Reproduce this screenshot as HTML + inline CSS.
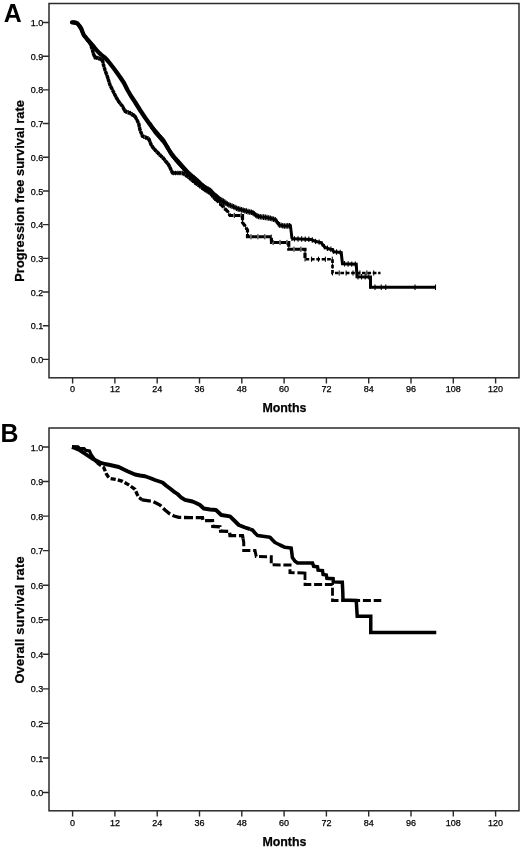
<!DOCTYPE html>
<html lang="en"><head><meta charset="utf-8"><title>Survival curves</title>
<style>
html,body{margin:0;padding:0;background:#fff}
body{width:520px;height:848px;overflow:hidden}
svg text{font-family:"Liberation Sans",Arial,Helvetica,sans-serif;fill:#111}
.tl{font-size:9px;fill:#000;stroke:#000;stroke-width:0.25px}
.al{font-size:12.4px;font-weight:bold;fill:#000;stroke:#000;stroke-width:0.25px}
.yl{font-size:12.8px;font-weight:bold;fill:#000;stroke:#000;stroke-width:0.25px}
.pl{font-size:24.9px;font-weight:bold;fill:#000}
</style></head><body>
<svg width="520" height="848" viewBox="0 0 520 848" style="display:block;filter:grayscale(1)">
<rect width="520" height="848" fill="#fff"/>
<rect x="49.0" y="3.5" width="470.0" height="374.3" fill="none" stroke="#2a2a2a" stroke-width="1.5"/>
<text x="43.2" y="362.95" text-anchor="end" class="tl">0.0</text>
<text x="43.2" y="329.26" text-anchor="end" class="tl">0.1</text>
<text x="43.2" y="295.57" text-anchor="end" class="tl">0.2</text>
<text x="43.2" y="261.88" text-anchor="end" class="tl">0.3</text>
<text x="43.2" y="228.19" text-anchor="end" class="tl">0.4</text>
<text x="43.2" y="194.50" text-anchor="end" class="tl">0.5</text>
<text x="43.2" y="160.81" text-anchor="end" class="tl">0.6</text>
<text x="43.2" y="127.12" text-anchor="end" class="tl">0.7</text>
<text x="43.2" y="93.43" text-anchor="end" class="tl">0.8</text>
<text x="43.2" y="59.74" text-anchor="end" class="tl">0.9</text>
<text x="43.2" y="26.05" text-anchor="end" class="tl">1.0</text>
<text x="72.60" y="392.20" text-anchor="middle" class="tl">0</text>
<text x="114.90" y="392.20" text-anchor="middle" class="tl">12</text>
<text x="157.20" y="392.20" text-anchor="middle" class="tl">24</text>
<text x="199.50" y="392.20" text-anchor="middle" class="tl">36</text>
<text x="241.80" y="392.20" text-anchor="middle" class="tl">48</text>
<text x="284.10" y="392.20" text-anchor="middle" class="tl">60</text>
<text x="326.40" y="392.20" text-anchor="middle" class="tl">72</text>
<text x="368.70" y="392.20" text-anchor="middle" class="tl">84</text>
<text x="411.00" y="392.20" text-anchor="middle" class="tl">96</text>
<text x="453.30" y="392.20" text-anchor="middle" class="tl">108</text>
<text x="495.60" y="392.20" text-anchor="middle" class="tl">120</text>
<path d="M42.8,359.40H49.0M42.8,325.71H49.0M42.8,292.02H49.0M42.8,258.33H49.0M42.8,224.64H49.0M42.8,190.95H49.0M42.8,157.26H49.0M42.8,123.57H49.0M42.8,89.88H49.0M42.8,56.19H49.0M42.8,22.50H49.0M72.60,377.8V383.40000000000003M114.90,377.8V383.40000000000003M157.20,377.8V383.40000000000003M199.50,377.8V383.40000000000003M241.80,377.8V383.40000000000003M284.10,377.8V383.40000000000003M326.40,377.8V383.40000000000003M368.70,377.8V383.40000000000003M411.00,377.8V383.40000000000003M453.30,377.8V383.40000000000003M495.60,377.8V383.40000000000003" stroke="#2a2a2a" stroke-width="1.4" fill="none"/>
<text x="284.4" y="412.3" text-anchor="middle" class="al">Months</text>
<text transform="translate(23.8,281.70) rotate(-90)" textLength="181.6" lengthAdjust="spacing" class="yl">Progression free survival rate</text>
<text x="3.7" y="21.8" class="pl">A</text>
<rect x="49.0" y="428.0" width="470.0" height="382.79999999999995" fill="none" stroke="#2a2a2a" stroke-width="1.5"/>
<text x="43.2" y="796.05" text-anchor="end" class="tl">0.0</text>
<text x="43.2" y="761.50" text-anchor="end" class="tl">0.1</text>
<text x="43.2" y="726.95" text-anchor="end" class="tl">0.2</text>
<text x="43.2" y="692.40" text-anchor="end" class="tl">0.3</text>
<text x="43.2" y="657.85" text-anchor="end" class="tl">0.4</text>
<text x="43.2" y="623.30" text-anchor="end" class="tl">0.5</text>
<text x="43.2" y="588.75" text-anchor="end" class="tl">0.6</text>
<text x="43.2" y="554.20" text-anchor="end" class="tl">0.7</text>
<text x="43.2" y="519.65" text-anchor="end" class="tl">0.8</text>
<text x="43.2" y="485.10" text-anchor="end" class="tl">0.9</text>
<text x="43.2" y="450.55" text-anchor="end" class="tl">1.0</text>
<text x="72.60" y="825.90" text-anchor="middle" class="tl">0</text>
<text x="114.90" y="825.90" text-anchor="middle" class="tl">12</text>
<text x="157.20" y="825.90" text-anchor="middle" class="tl">24</text>
<text x="199.50" y="825.90" text-anchor="middle" class="tl">36</text>
<text x="241.80" y="825.90" text-anchor="middle" class="tl">48</text>
<text x="284.10" y="825.90" text-anchor="middle" class="tl">60</text>
<text x="326.40" y="825.90" text-anchor="middle" class="tl">72</text>
<text x="368.70" y="825.90" text-anchor="middle" class="tl">84</text>
<text x="411.00" y="825.90" text-anchor="middle" class="tl">96</text>
<text x="453.30" y="825.90" text-anchor="middle" class="tl">108</text>
<text x="495.60" y="825.90" text-anchor="middle" class="tl">120</text>
<path d="M42.8,792.50H49.0M42.8,757.95H49.0M42.8,723.40H49.0M42.8,688.85H49.0M42.8,654.30H49.0M42.8,619.75H49.0M42.8,585.20H49.0M42.8,550.65H49.0M42.8,516.10H49.0M42.8,481.55H49.0M42.8,447.00H49.0M72.60,810.8V816.4M114.90,810.8V816.4M157.20,810.8V816.4M199.50,810.8V816.4M241.80,810.8V816.4M284.10,810.8V816.4M326.40,810.8V816.4M368.70,810.8V816.4M411.00,810.8V816.4M453.30,810.8V816.4M495.60,810.8V816.4" stroke="#2a2a2a" stroke-width="1.4" fill="none"/>
<text x="284.4" y="846.1" text-anchor="middle" class="al">Months</text>
<text transform="translate(23.8,683.60) rotate(-90)" textLength="127.2" lengthAdjust="spacing" class="yl">Overall survival rate</text>
<text x="0.4" y="442.2" class="pl">B</text>
<path d="M72.00,22.30 L75.00,22.60 L77.50,23.50 L79.50,26.00 L81.25,28.75 L82.50,32.00 L83.75,35.00 L87.00,39.00 L90.00,43.00 L92.50,50.00 L93.50,54.00 L95.00,57.50 L98.00,58.00 L102.50,60.00 L103.50,65.00 L105.00,70.00 L107.50,77.00 L110.00,85.00 L113.00,91.00 L116.25,97.50 L119.00,102.00 L122.50,106.25 L125.00,111.25 L130.00,113.00 L135.00,116.25 L137.00,120.00 L138.75,123.75 L140.00,130.00 L142.50,136.25 L148.75,138.75 L151.25,145.00 L154.00,149.00 L157.50,152.50 L163.75,158.75 L168.75,165.00 L172.50,173.00 L180.50,173.00 L183.00,173.20 L187.50,176.25 L195.00,182.50 L205.00,190.00 L210.00,193.00 L215.00,198.75 L215.00,198.75" fill="none" stroke="#000" stroke-width="3.5" stroke-dasharray="3.6 0.4" stroke-linejoin="round" stroke-linecap="butt"/>
<path d="M215.00,198.75 L219.00,202.50 L222.50,206.25 L227.50,211.25 L230.00,215.50 L242.50,215.50 L242.50,222.50 L245.00,226.00 L247.50,230.00 L247.50,236.75 L271.25,236.75 L271.50,242.50 L288.75,242.50 L288.75,249.25 L305.00,249.25 L305.00,259.25 L305.50,259.25" fill="none" stroke="#000" stroke-width="3.2" stroke-dasharray="5.4 1.5" stroke-linejoin="miter" stroke-linecap="butt"/>
<path d="M305.50,259.25 L332.50,259.25 L332.50,273.00 L380.50,273.00" fill="none" stroke="#000" stroke-width="2.7" stroke-dasharray="3.7 1.7" stroke-linejoin="miter" stroke-linecap="butt"/>
<path d="M74.19,20.22v4.60M76.30,20.77v4.60M78.08,21.92v4.60M79.45,23.64v4.60M80.64,25.49v4.60M81.63,27.45v4.60M82.42,29.50v4.60M83.26,31.53v4.60M84.34,33.43v4.60M85.73,35.13v4.60M87.11,36.84v4.60M88.43,38.60v4.60M89.75,40.36v4.60M90.60,42.38v4.60M91.34,44.45v4.60M92.08,46.52v4.60M92.73,48.62v4.60M93.26,50.75v4.60M93.98,52.83v4.60M94.85,54.85v4.60M96.79,55.50v4.60M98.89,56.10v4.60M100.90,56.99v4.60M102.59,58.14v4.60M103.02,60.30v4.60M103.45,62.46v4.60M104.06,64.57v4.60M104.69,66.68v4.60M105.38,68.77v4.60M106.12,70.84v4.60M106.86,72.91v4.60M107.59,74.99v4.60M108.25,77.09v4.60M108.90,79.18v4.60M109.56,81.28v4.60M110.32,83.34v4.60M111.30,85.31v4.60M112.29,87.28v4.60M113.27,89.24v4.60M114.26,91.21v4.60M115.24,93.18v4.60M116.22,95.15v4.60M117.37,97.03v4.60M118.51,98.90v4.60M119.81,100.68v4.60M121.20,102.38v4.60M122.57,104.10v4.60M123.56,106.06v4.60M124.54,108.03v4.60M126.11,109.34v4.60M128.18,110.06v4.60M130.23,110.85v4.60M132.07,112.05v4.60M133.92,113.25v4.60M135.43,114.75v4.60M136.46,116.70v4.60M137.45,118.66v4.60M138.38,120.66v4.60M139.01,122.75v4.60M139.44,124.90v4.60M139.87,127.06v4.60M140.58,129.14v4.60M141.39,131.18v4.60M142.21,133.22v4.60M143.82,134.48v4.60M145.86,135.29v4.60M147.90,136.11v4.60M149.23,137.64v4.60M150.04,139.69v4.60M150.86,141.73v4.60M151.90,143.65v4.60M153.15,145.46v4.60M154.50,147.20v4.60M156.05,148.75v4.60M157.61,150.31v4.60M159.16,151.86v4.60M160.72,153.42v4.60M162.27,154.97v4.60M163.82,156.54v4.60M165.19,158.26v4.60M166.57,159.97v4.60M167.94,161.69v4.60M169.14,163.52v4.60M170.07,165.51v4.60M171.00,167.51v4.60M171.94,169.50v4.60M173.37,170.70v4.60M175.57,170.70v4.60M177.77,170.70v4.60M179.97,170.70v4.60M182.17,170.83v4.60M184.13,171.67v4.60M185.95,172.90v4.60M187.75,174.16v4.60M189.44,175.57v4.60M191.13,176.98v4.60M192.82,178.39v4.60M194.51,179.79v4.60M196.25,181.14v4.60M198.01,182.46v4.60M199.77,183.78v4.60M201.53,185.10v4.60M203.29,186.42v4.60M205.06,187.73v4.60M206.94,188.87v4.60M208.83,190.00v4.60M210.55,191.33v4.60M211.99,192.99v4.60M213.44,194.65v4.60M214.88,196.31v4.60" stroke="#000" stroke-width="1.1" fill="none"/>
<path d="M219.50,200.44v5.20M224.27,205.42v5.20M228.68,210.66v5.20M234.30,212.90v5.20M241.20,212.90v5.20M242.50,218.50v5.20M245.64,224.42v5.20M247.50,230.78v5.20M251.03,234.15v5.20M257.93,234.15v5.20M264.83,234.15v5.20M271.27,234.63v5.20M273.13,239.90v5.20M280.03,239.90v5.20M286.93,239.90v5.20M288.75,244.98v5.20M293.98,246.65v5.20M300.88,246.65v5.20M305.00,249.43v5.20M305.00,256.33v5.20M311.58,256.65v5.20M318.48,256.65v5.20M325.38,256.65v5.20M332.28,256.65v5.20M332.50,263.33v5.20M332.50,270.23v5.20M339.23,270.40v5.20M346.13,270.40v5.20M353.03,270.40v5.20M359.93,270.40v5.20M366.83,270.40v5.20M373.73,270.40v5.20" stroke="#000" stroke-width="1.0" fill="none"/>
<path d="M72.00,22.30 L75.00,22.60 L77.50,23.50 L79.50,26.00 L81.25,28.75 L82.50,32.00 L83.75,35.00 L87.00,39.00 L90.00,42.50 L94.00,47.00 L97.50,51.25 L101.00,54.60 L105.00,57.60 L108.00,61.00 L110.00,63.50 L115.00,70.00 L120.00,77.00 L124.00,83.00 L127.50,90.00 L131.00,96.00 L135.00,102.00 L140.00,110.00 L145.00,117.50 L150.00,124.50 L155.00,131.25 L159.50,136.50 L163.75,141.25 L167.50,147.50 L171.25,153.75 L175.50,159.00 L180.00,164.00 L184.00,168.50 L187.50,172.50 L192.50,177.00 L197.50,181.25 L202.50,186.00 L207.50,189.50 L210.00,190.50 L214.00,195.00 L215.00,195.71" fill="none" stroke="#000" stroke-width="4.3" stroke-linejoin="round" stroke-linecap="round"/>
<path d="M215.00,195.71 L217.50,197.50 L221.00,200.50 L225.00,202.50 L229.00,205.00 L232.50,206.25 L237.00,208.50 L242.50,210.00 L247.50,211.50 L252.50,212.50 L255.00,214.50 L257.50,216.25 L262.00,217.00 L265.00,217.30 L270.00,218.20 L275.50,219.80 L277.50,222.50 L279.00,224.80 L284.00,226.00 L290.50,225.80 L291.20,232.00 L292.00,238.75 L292.00,238.75" fill="none" stroke="#000" stroke-width="2.9" stroke-linejoin="round" stroke-linecap="butt"/>
<path d="M292.00,238.75 L300.00,239.00 L311.00,239.40 L315.00,241.20 L321.00,242.60 L323.00,245.00 L325.00,247.50 L330.00,249.20 L332.50,249.40 L333.75,251.75 L341.25,252.50 L341.80,258.00 L342.50,263.75 L356.25,264.25 L357.00,276.70 L370.50,276.90 L370.50,287.30 L435.50,287.30" fill="none" stroke="#000" stroke-width="3.0" stroke-linejoin="miter" stroke-linecap="butt"/>
<path d="M150.72,122.28v6.40M151.62,123.48v6.40M152.51,124.69v6.40M153.40,125.89v6.40M154.30,127.10v6.40M155.21,128.29v6.40M156.18,129.43v6.40M157.16,130.57v6.40M158.13,131.71v6.40M159.11,132.85v6.40M160.10,133.97v6.40M161.10,135.09v6.40M162.10,136.21v6.40M163.10,137.33v6.40M164.02,138.50v6.40M164.79,139.79v6.40M165.56,141.07v6.40M166.34,142.36v6.40M167.11,143.65v6.40M167.88,144.93v6.40M168.65,146.22v6.40M169.42,147.51v6.40M170.20,148.79v6.40M170.97,150.08v6.40M171.85,151.29v6.40M172.79,152.45v6.40M173.74,153.62v6.40M174.68,154.79v6.40M175.63,155.95v6.40M176.63,157.06v6.40M177.64,158.18v6.40M178.64,159.29v6.40M179.64,160.41v6.40M180.64,161.52v6.40M181.64,162.65v6.40M182.64,163.77v6.40M183.63,164.89v6.40M184.62,166.01v6.40M185.61,167.14v6.40M186.60,168.27v6.40M187.60,169.39v6.40M188.71,170.39v6.40M189.83,171.40v6.40M190.94,172.40v6.40M192.06,173.40v6.40M193.19,174.39v6.40M194.33,175.36v6.40M195.48,176.33v6.40M196.62,177.30v6.40M197.75,178.29v6.40M198.84,179.32v6.40M199.92,180.35v6.40M201.01,181.39v6.40M202.10,182.42v6.40M203.28,183.34v6.40M204.50,184.20v6.40M205.73,185.06v6.40M206.96,185.92v6.40M208.28,186.61v6.40M209.68,187.17v6.40M210.76,188.16v6.40M211.76,189.28v6.40M212.76,190.40v6.40M213.75,191.52v6.40M214.92,192.46v6.40M216.14,193.33v6.40M217.36,194.20v6.40M218.51,195.17v6.40M219.65,196.14v6.40M220.79,197.12v6.40M222.09,197.85v6.40M223.43,198.52v6.40M224.77,199.19v6.40" stroke="#000" stroke-width="1.2" fill="none"/>
<path d="M225.97,200.31v5.60M227.41,201.21v5.60M228.86,202.11v5.60M230.44,202.71v5.60M232.04,203.29v5.60M233.59,203.99v5.60M235.11,204.75v5.60M236.63,205.51v5.60M238.24,206.04v5.60M239.88,206.48v5.60M241.52,206.93v5.60M243.15,207.40v5.60M244.78,207.88v5.60M246.41,208.37v5.60M248.05,208.81v5.60M249.72,209.14v5.60M251.38,209.48v5.60M252.94,210.05v5.60M254.27,211.11v5.60M255.62,212.14v5.60M257.02,213.11v5.60M258.59,213.63v5.60M260.27,213.91v5.60M261.95,214.19v5.60M263.64,214.36v5.60M265.33,214.56v5.60M267.00,214.86v5.60M268.67,215.16v5.60M270.34,215.50v5.60M271.97,215.97v5.60M273.60,216.45v5.60M275.24,216.92v5.60M276.35,218.14v5.60M277.36,219.51v5.60M278.30,220.93v5.60M279.41,222.10v5.60M281.06,222.49v5.60M282.71,222.89v5.60M284.38,223.19v5.60M286.08,223.14v5.60M287.77,223.08v5.60M289.47,223.03v5.60M290.58,223.67v5.60M290.77,225.36v5.60M290.96,227.05v5.60M291.15,228.74v5.60M291.35,230.43v5.60M291.55,232.11v5.60M291.75,233.80v5.60M291.95,235.49v5.60" stroke="#000" stroke-width="1.2" fill="none"/>
<path d="M294.44,236.13v5.40M298.03,236.24v5.40M301.63,236.36v5.40M305.23,236.49v5.40M308.83,236.62v5.40M312.30,237.28v5.40M315.62,238.65v5.40M319.13,239.46v5.40M322.07,241.19v5.40M324.35,243.98v5.40M327.42,245.62v5.40M330.87,246.57v5.40M333.42,248.43v5.40M336.64,249.34v5.40M340.22,249.70v5.40M341.51,252.35v5.40M341.88,255.93v5.40M342.31,259.51v5.40M344.54,261.12v5.40M348.14,261.26v5.40M351.74,261.39v5.40M355.34,261.52v5.40M356.41,264.23v5.40M356.63,267.82v5.40M356.84,271.42v5.40M358.01,274.01v5.40M361.61,274.07v5.40M365.21,274.12v5.40M368.81,274.17v5.40M370.50,276.11v5.40M370.50,279.71v5.40M370.50,283.31v5.40" stroke="#000" stroke-width="1.1" fill="none"/>
<path d="M375,284.6v5.4M381.25,284.6v5.4M385.75,284.6v5.4M415,284.6v5.4M435.5,284.6v5.4" stroke="#000" stroke-width="1.1" fill="none"/>
<path d="M72.00,446.60 L78.00,446.80 L79.50,448.30 L84.00,448.60 L85.50,450.20 L89.50,451.00 L91.00,454.50 L93.50,458.00 L96.00,461.50 L97.00,462.41" fill="none" stroke="#000" stroke-width="3.2" stroke-linejoin="miter" stroke-linecap="butt"/>
<path d="M97.00,462.41 L98.75,464.00 L103.75,467.50 L105.00,470.50 L106.25,473.75 L108.00,476.50 L110.00,478.50 L117.50,479.80 L122.50,481.30 L128.75,484.80 L135.00,489.30 L137.00,494.00 L138.75,497.50 L142.00,499.67" fill="none" stroke="#000" stroke-width="3.3" stroke-dasharray="5.2 2.1" stroke-linejoin="miter" stroke-linecap="butt"/>
<path d="M142.00,499.67 L142.50,500.00 L152.50,501.25 L156.00,503.00 L160.00,505.00 L165.00,510.00 L170.00,514.00 L174.00,516.00 L178.75,517.40 L190.00,517.60 L202.50,517.60 L203.00,520.60 L212.50,520.60 L212.80,526.50 L220.00,526.80 L220.60,531.20 L229.50,531.30 L230.00,535.60 L242.50,535.60 L243.00,538.36" fill="none" stroke="#000" stroke-width="3.3" stroke-dasharray="9 2.8" stroke-linejoin="miter" stroke-linecap="butt"/>
<path d="M243.00,538.36 L243.75,542.50 L243.75,550.50 L255.00,550.50 L256.25,556.50 L271.25,556.75 L271.25,564.80 L290.00,565.00 L290.00,572.60 L304.00,572.97" fill="none" stroke="#000" stroke-width="3.0" stroke-dasharray="8 2.8" stroke-linejoin="miter" stroke-linecap="butt"/>
<path d="M304.00,572.97 L305.00,573.00 L305.00,584.50 L332.50,584.50 L332.50,600.50 L381.25,600.50" fill="none" stroke="#000" stroke-width="2.8" stroke-dasharray="8 2.8" stroke-linejoin="miter" stroke-linecap="butt"/>
<path d="M72.00,447.00 L76.00,448.50 L80.00,450.30 L85.00,453.75 L92.50,458.75 L100.00,462.50 L105.00,464.00 L110.00,465.00 L118.75,467.00 L127.50,471.25 L135.00,474.50 L140.00,475.50 L145.00,476.25 L150.00,478.00 L155.00,480.00 L162.50,482.50 L166.00,485.50 L170.00,488.50 L173.50,491.30 L177.50,494.00 L181.00,497.30 L185.00,499.80 L192.50,501.50 L196.00,503.00 L200.00,505.00 L203.75,508.50 L210.00,509.50 L216.00,510.00 L221.25,515.00 L230.00,516.40 L235.00,521.25 L238.75,525.00 L245.00,527.50 L250.00,529.17" fill="none" stroke="#000" stroke-width="3.9" stroke-linejoin="round" stroke-linecap="butt"/>
<path d="M250.00,529.17 L252.50,530.00 L255.00,533.00 L257.50,535.50 L263.00,536.30 L270.00,537.20 L272.50,540.00 L275.00,542.50 L280.00,545.00 L285.00,547.30 L291.00,547.98" fill="none" stroke="#000" stroke-width="3.6" stroke-linejoin="round" stroke-linecap="butt"/>
<path d="M291.00,547.98 L291.20,548.00 L292.40,557.50 L295.00,561.20 L297.50,563.00 L312.50,563.10 L313.70,566.30 L317.50,566.80 L318.10,570.20 L322.50,570.60 L323.10,574.50 L326.30,575.00 L326.90,578.30 L333.10,578.70 L333.30,581.90 L342.30,582.30 L342.80,592.00 L343.00,600.00 L356.25,600.50 L357.20,616.25 L370.75,616.25 L370.75,632.50 L436.25,632.50" fill="none" stroke="#000" stroke-width="3.5" stroke-linejoin="miter" stroke-linecap="butt"/>
</svg>
</body></html>
